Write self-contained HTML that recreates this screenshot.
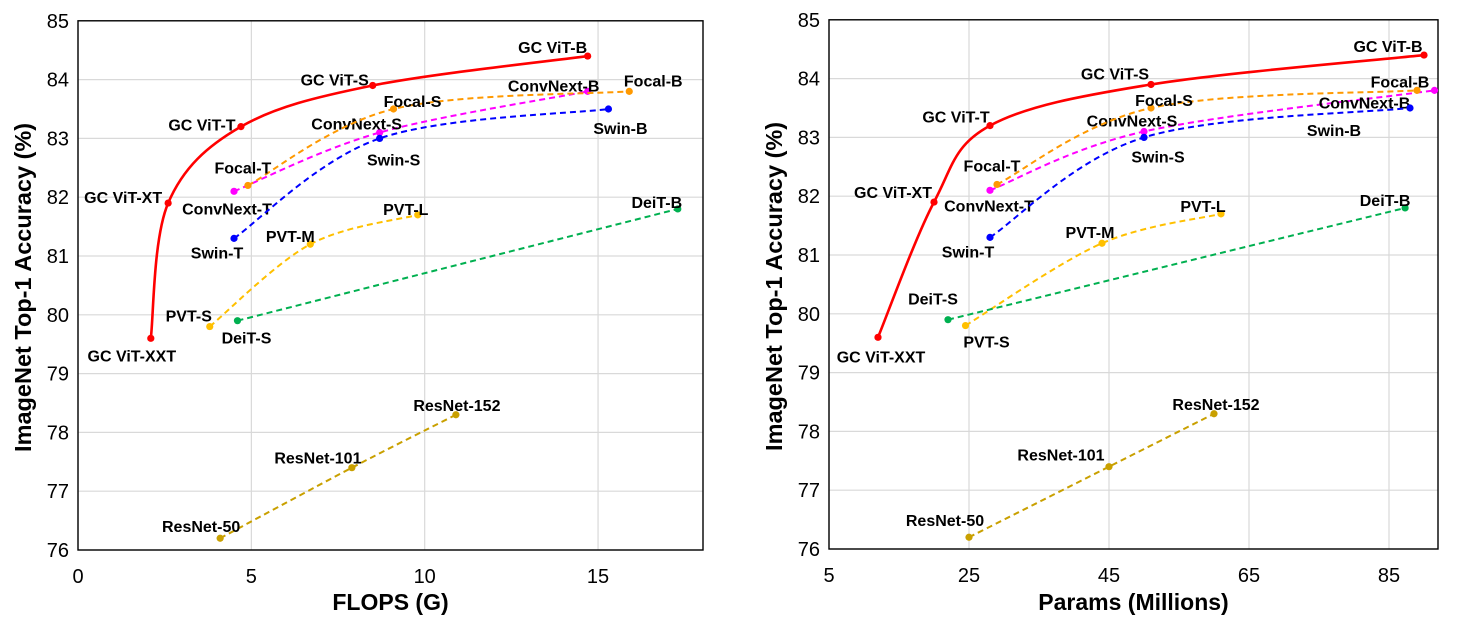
<!DOCTYPE html>
<html><head><meta charset="utf-8"><style>
body{margin:0;background:#fff;width:1469px;height:621px;overflow:hidden}
svg{display:block;font-family:"Liberation Sans",Arial,sans-serif}
</style></head><body>
<svg id="svg" width="1469" height="621"></svg>
<script>
// ---- data ----
const seriesNames=["GC ViT","ConvNext","Focal","Swin","PVT","DeiT","ResNet"];
const seriesColors=["#ff0000","#ff00ff","#ff9900","#0000ff","#ffc000","#00b050","#c9a000"];
const pointLabels=[
 ["GC ViT-XXT","GC ViT-XT","GC ViT-T","GC ViT-S","GC ViT-B"],
 ["ConvNext-T","ConvNext-S","ConvNext-B"],
 ["Focal-T","Focal-S","Focal-B"],
 ["Swin-T","Swin-S","Swin-B"],
 ["PVT-S","PVT-M","PVT-L"],
 ["DeiT-S","DeiT-B"],
 ["ResNet-50","ResNet-101","ResNet-152"]];
const accuracy=[
 [79.6,81.9,83.2,83.9,84.4],
 [82.1,83.1,83.8],
 [82.2,83.5,83.8],
 [81.3,83.0,83.5],
 [79.8,81.2,81.7],
 [79.9,81.8],
 [76.2,77.4,78.3]];
const flops=[
 [2.1,2.6,4.7,8.5,14.7],
 [4.5,8.7,14.7],
 [4.9,9.1,15.9],
 [4.5,8.7,15.3],
 [3.8,6.7,9.8],
 [4.6,17.3],
 [4.1,7.9,10.9]];
const params=[
 [12,20,28,51,90],
 [28,50,91.5],
 [29,51,89],
 [28,50,88],
 [24.5,44,61],
 [22,87.3],
 [25,45,60]];
const yTicks=[76,77,78,79,80,81,82,83,84,85];
const xTicksL=[0,5,10,15];
const xTicksR=[5,25,45,65,85];
// label offsets (px, relative to point) for each chart
const offL=[[[-19,17],[-45,-6],[-39,-2],[-38,-6],[-35,-9]],[[-7,17],[-23,-9],[-34,-6]],[[-5,-18],[19,-8],[24,-11]],[[-17,14],[14,21],[12,19]],[[-21,-11],[-20,-8],[-12,-6]],[[9,17],[-21,-7]],[[-19,-12],[-34,-10],[1,-10]]];
const offR=[[[3,19],[-41,-10],[-34,-9],[-36,-11],[-36,-9]],[[-1,15],[-12,-11],[-70,12]],[[-5,-19],[13,-8],[-17,-9]],[[-22,14],[14,19],[-76,22]],[[21,16],[-12,-11],[-18,-8]],[[-15,-21],[-20,-8]],[[-24,-17],[-48,-12],[2,-10]]];
const NS="http://www.w3.org/2000/svg";
const svg=document.getElementById('svg');
function mk(tag,attrs,parent){const e=document.createElementNS(NS,tag);for(const k in attrs)e.setAttribute(k,attrs[k]);(parent||svg).appendChild(e);return e;}
function smooth(pts){
 if(pts.length<3)return "M"+pts.map(p=>p.join(",")).join("L");
 let d="M"+pts[0][0]+","+pts[0][1];
 for(let i=0;i<pts.length-1;i++){
  const p0=pts[i-1]||pts[i],p1=pts[i],p2=pts[i+1],p3=pts[i+2]||p2,t=6;
  d+="C"+(p1[0]+(p2[0]-p0[0])/t)+","+(p1[1]+(p2[1]-p0[1])/t)+" "+(p2[0]-(p3[0]-p1[0])/t)+","+(p2[1]-(p3[1]-p1[1])/t)+" "+p2[0]+","+p2[1];
 }
 return d;
}
function chart(cfg){
 const g=mk('g',{});
 
 
 const X=v=>cfg.x0+(v-cfg.xmin)*cfg.xs, Y=v=>cfg.y0-(v-76)*cfg.ys;
 yTicks.forEach(t=>{
  const l=mk('line',{x1:cfg.left,x2:cfg.right,y1:Y(t),y2:Y(t),stroke:'#d9d9d9','stroke-width':1.2},g);
  
  
  const tx=mk('text',{x:cfg.left-9,y:Y(t)+7,'text-anchor':'end','font-size':20,fill:'#000'},g);
  tx.textContent=t;
  
  
 });
 cfg.xticks.forEach(t=>{
  const l=mk('line',{x1:X(t),x2:X(t),y1:Y(85),y2:Y(76),stroke:'#d9d9d9','stroke-width':1.2},g);
  
  
  const tx=mk('text',{x:X(t),y:Y(76)+33,'text-anchor':'middle','font-size':20,fill:'#000'},g);
  tx.textContent=t;
  
  
 });
 const fr=mk('rect',{x:cfg.left,y:Y(85),width:cfg.right-cfg.left,height:Y(76)-Y(85),fill:'none',stroke:'#000','stroke-width':1.4},g);
 
 
 const xt=mk('text',{x:(cfg.left+cfg.right)/2,y:610,'text-anchor':'middle','font-size':23,'font-weight':'bold'},g);
 xt.textContent=cfg.xtitle;
 
 
 const yc=(Y(85)+Y(76))/2+2;
 const yx=cfg.left-47;
 const yt=mk('text',{x:yx,y:yc,'text-anchor':'middle','font-size':23.5,'font-weight':'bold',transform:`rotate(-90 ${yx} ${yc})`},g);
 yt.textContent="ImageNet Top-1 Accuracy (%)";
 
 
 seriesNames.forEach((s,i)=>{
  const pts=cfg.xs_data[i].map((v,j)=>[X(v),Y(accuracy[i][j])]);
  const p=mk('path',{d:smooth(pts),fill:'none',stroke:seriesColors[i],'stroke-width':i==0?2.6:2,'stroke-dasharray':i==0?'none':'6 4'},g);
  
  
  pts.forEach((q,j)=>{
   const c=mk('circle',{cx:q[0],cy:q[1],r:3.6,fill:seriesColors[i]},g);
   
   
   const o=cfg.off[i][j];
   const t=mk('text',{x:q[0]+o[0],y:q[1]+o[1]+6,'text-anchor':'middle','font-size':16,'font-weight':'bold',fill:'#000'},g);
   t.textContent=pointLabels[i][j];
   
   
  });
 });
}
chart({name:'flops-chart',left:78,right:703,x0:78,xmin:0,xs:34.67,y0:550,ys:58.8,xticks:xTicksL,xtitle:'FLOPS (G)',xs_data:flops,off:offL});
chart({name:'params-chart',left:829,right:1438,x0:829,xmin:5,xs:7,y0:549,ys:58.8,xticks:xTicksR,xtitle:'Params (Millions)',xs_data:params,off:offR});
</script>
</body></html>
